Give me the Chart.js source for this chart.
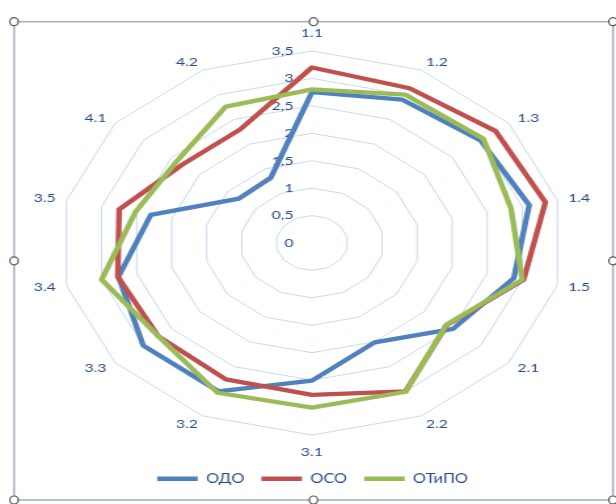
<!DOCTYPE html>
<html>
<head>
<meta charset="utf-8">
<script src="https://cdn.jsdelivr.net/npm/chart.js@4"></script>
<style>
  html, body { margin: 0; padding: 0; background: #fff; overflow: hidden; }
  /* the reference picture is stretched sideways, so the chart is drawn narrow and widened */
  #wrap { width: 470px; height: 504px; transform: scaleX(1.3106); transform-origin: 0 0; }
</style>
</head>
<body>
<div id="wrap"><canvas id="myChart"></canvas></div>
<script>
const categories = ['1.1', '1.2', '1.3', '1.4', '1.5', '2.1', '2.2', '3.1', '3.2', '3.3', '3.4', '3.5', '4.1', '4.2'];
const seriesNames = ['ОДО', 'ОСО', 'ОТиПО'];
const odo   = [2.75, 2.9, 3.0, 3.1, 2.88, 2.51, 2.01, 2.51, 3.0, 3.0, 2.76, 2.3, 1.3, 1.32];
const oso   = [3.2, 3.13, 3.27, 3.33, 3.02, 2.4, 3.0, 2.77, 2.76, 2.73, 2.77, 2.75, 2.3, 2.3];
const otipo = [2.8, 3.0, 3.05, 2.84, 3.0, 2.39, 3.01, 3.0, 3.03, 2.73, 3.0, 2.52, 2.4, 2.76];
const scaleMax = 3.5;
const scaleStep = 0.5;

const colors = ['#4F81BD', '#C0504D', '#9BBB59'];
const textColor = '#264A88';
const gridColor = '#C6DAF0';
const labelFont = '12px Lato';

// Excel style labels: tick labels left of the axis, category labels centred on their spoke
const axisText = {
  id: 'axisText',
  beforeDatasetsDraw(chart) {
    const r = chart.scales.r;
    const ctx = chart.ctx;
    ctx.save();
    ctx.font = labelFont;
    ctx.fillStyle = textColor;
    ctx.textBaseline = 'middle';
    ctx.textAlign = 'right';
    r.ticks.forEach(t => {
      ctx.fillText(t.label, r.xCenter - 14, r.yCenter - r.getDistanceFromCenterForValue(t.value));
    });
    categories.forEach((c, i) => {
      const p = r.getPointPosition(i, r.drawingArea + 8.5);
      const deg = Math.round(i * 360 / categories.length);
      let y = p.y;
      if (deg === 0) y -= 9;
      else if (deg === 180) y += 9;
      ctx.textAlign = (deg === 0 || deg === 180) ? 'center' : (deg < 180 ? 'left' : 'right');
      ctx.fillText(c, p.x, y);
    });
    ctx.restore();
  }
};

// selection frame with handles round the chart
const frame = {
  id: 'frame',
  afterDraw(chart) {
    const ctx = chart.ctx;
    const l = 10.7, r = 467.7, t = 21.7, b = 500;
    ctx.save();
    ctx.strokeStyle = '#A9B2BF';
    ctx.lineWidth = 1.6;
    ctx.strokeRect(l, t, r - l, b - t);
    const mx = (l + r) / 2, my = (t + b) / 2;
    [[l, t], [mx, t], [r, t], [l, my], [r, my], [l, b], [mx, b], [r, b]].forEach(p => {
      ctx.beginPath();
      ctx.ellipse(p[0], p[1], 3.2, 4, 0, 0, Math.PI * 2);
      ctx.fillStyle = '#fff';
      ctx.fill();
      ctx.strokeStyle = '#595959';
      ctx.lineWidth = 1.2;
      ctx.stroke();
    });
    ctx.restore();
  }
};

const values = [odo, oso, otipo];
const datasets = seriesNames.map((name, i) => ({
  label: name,
  data: values[i],
  borderColor: colors[i],
  backgroundColor: colors[i],
  borderWidth: 4.3,
  borderJoinStyle: 'round',
  pointRadius: 0,
  pointHoverRadius: 0,
  fill: false,
  order: 3 - i
}));

const config = {
  type: 'radar',
  data: { labels: categories, datasets: datasets },
  options: {
    responsive: true,
    maintainAspectRatio: false,
    animation: false,
    layout: { padding: { top: 27, bottom: 9, left: 46, right: 39 } },
    scales: {
      r: {
        min: 0,
        max: scaleMax,
        ticks: {
          display: false,
          stepSize: scaleStep,
          callback: v => String(v).replace('.', ',')
        },
        grid: { color: gridColor, lineWidth: 1 },
        angleLines: { display: false },
        pointLabels: { display: false }
      }
    },
    plugins: {
      legend: {
        position: 'bottom',
        labels: {
          usePointStyle: true,
          pointStyle: 'line',
          pointStyleWidth: 31,
          padding: 13,
          color: textColor,
          font: { family: 'Lato', size: 12.5 },
          sort: (a, b) => a.datasetIndex - b.datasetIndex
        }
      },
      tooltip: { enabled: false }
    }
  },
  plugins: [axisText, frame]
};

var ctx = document.getElementById('myChart').getContext('2d');
var myChart = new Chart(ctx, config);
</script>
</body>
</html>
